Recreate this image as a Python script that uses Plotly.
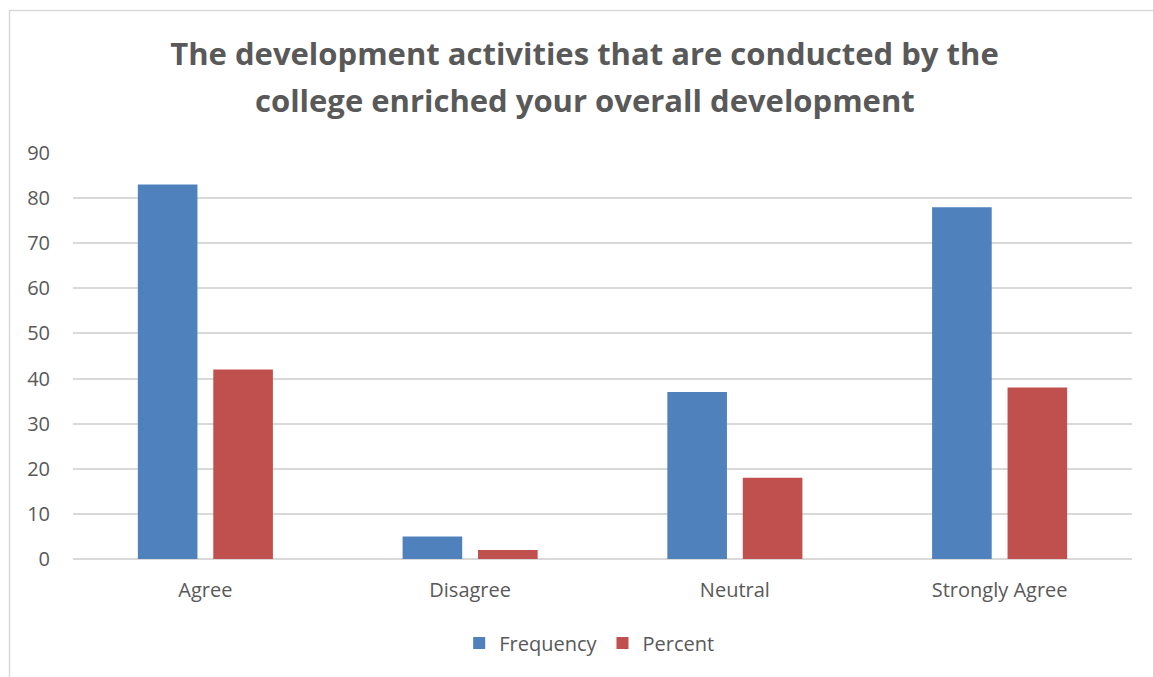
import plotly.graph_objects as go

categories = ["Agree", "Disagree", "Neutral", "Strongly Agree"]
frequency = [83, 5, 37, 78]
percent = [42, 2, 18, 38]
y_ticks = [0, 10, 20, 30, 40, 50, 60, 70, 80, 90]
title_lines = ["The development activities that are conducted by the",
               "college enriched your overall development"]

W, H = 1153, 677
L, R, T, B = 73, 21, 153, 118
FONT = "Open Sans"
GREY = "#595959"

fig = go.Figure()
fig.add_trace(go.Bar(name="Frequency", x=categories, y=frequency,
                     marker=dict(color="#4f81bd", line=dict(width=0))))
fig.add_trace(go.Bar(name="Percent", x=categories, y=percent,
                     marker=dict(color="#c0504d", line=dict(width=0))))

def px_x(p):
    return (p - L) / (W - L - R)

def px_y(p):
    return 1 - (p - T) / (H - T - B)

TITLE_FONT = dict(family=FONT, size=31, color=GREY, weight="bold")

fig.update_layout(
    width=W, height=H,
    margin=dict(l=L, r=R, t=T, b=B, pad=0),
    paper_bgcolor="white", plot_bgcolor="white",
    barmode="group", bargap=0.43, bargroupgap=0.21,
    font=dict(family=FONT, color=GREY, size=20),
    title=dict(
        text=title_lines[0], font=TITLE_FONT,
        x=584.5 / W, xanchor="center", y=1 - 54 / H, yanchor="middle",
    ),
    xaxis=dict(showgrid=False, showline=False, ticks="", tickfont=dict(size=20, color=GREY),
               ticklabelstandoff=17),
    yaxis=dict(range=[0, 90], tickvals=y_ticks, showgrid=True, gridcolor="#d9d9d9", gridwidth=1.5,
               zeroline=True, zerolinecolor="#d9d9d9", zerolinewidth=1.5,
               showline=False, ticks="", tickfont=dict(size=20, color=GREY), ticklabelstandoff=22),
    legend=dict(orientation="h", x=562 / W, xanchor="center", y=px_y(643), yanchor="middle",
                xref="paper", yref="paper",
                font=dict(size=20, color=GREY), itemwidth=30, traceorder="normal"),
    annotations=[dict(text=title_lines[1], xref="paper", yref="paper",
                      x=px_x(584.5), y=px_y(100), xanchor="center", yanchor="middle",
                      showarrow=False, font=TITLE_FONT)],
    shapes=[dict(type="rect", xref="paper", yref="paper",
                 x0=px_x(9.5), x1=px_x(1160), y0=px_y(10.5), y1=px_y(690),
                 line=dict(color="#d9d9d9", width=1.5), fillcolor="rgba(0,0,0,0)", layer="below")],
)

fig.write_html("out.html", config={"displayModeBar": False},
               post_script="document.body.style.margin='0';document.body.style.overflow='hidden';")
